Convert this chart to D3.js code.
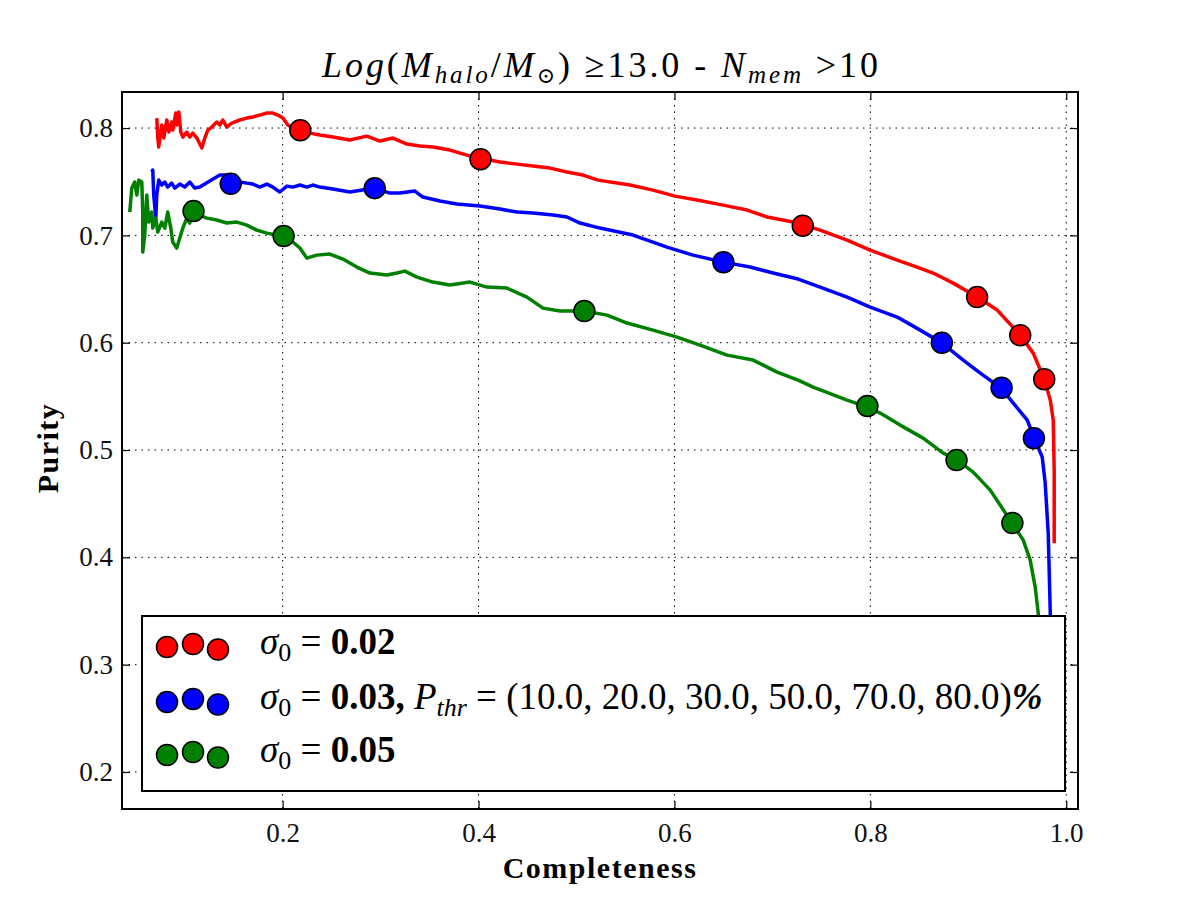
<!DOCTYPE html>
<html>
<head>
<meta charset="utf-8">
<script src="https://cdn.jsdelivr.net/npm/d3@7"></script>
<style>
  body { margin: 0; background: #fff; }
  text { font-family: "Liberation Serif", "DejaVu Serif", serif; }
</style>
</head>
<body>
<div class="chart"></div>
<script>
// completeness / purity curves
const redCurve = [[0.0715,0.8093],[0.0725,0.7916],[0.0735,0.7823],[0.0766,0.8028],[0.0787,0.7907],[0.0817,0.8075],[0.0838,0.7963],[0.0868,0.8056],[0.0878,0.7981],[0.0909,0.8140],[0.0919,0.8028],[0.0940,0.8149],[0.0960,0.7963],[0.0981,0.7916],[0.1021,0.7963],[0.1052,0.7916],[0.1083,0.7953],[0.1124,0.7907],[0.1175,0.7814],[0.1205,0.7907],[0.1236,0.7981],[0.1277,0.8009],[0.1328,0.8056],[0.1359,0.8028],[0.1389,0.8075],[0.1430,0.8009],[0.1481,0.8047],[0.1563,0.8075],[0.1634,0.8093],[0.1696,0.8103],[0.1767,0.8121],[0.1839,0.8140],[0.1900,0.8140],[0.1951,0.8121],[0.2002,0.8093],[0.2053,0.8028],[0.2104,0.8000],[0.2176,0.7972],[0.2278,0.7953],[0.2380,0.7935],[0.2513,0.7916],[0.2686,0.7888],[0.2860,0.7925],[0.2993,0.7879],[0.3126,0.7907],[0.3269,0.7851],[0.3401,0.7832],[0.3534,0.7823],[0.3708,0.7795],[0.3882,0.7748],[0.4014,0.7720],[0.4219,0.7683],[0.4392,0.7664],[0.4556,0.7646],[0.4729,0.7627],[0.4903,0.7590],[0.5066,0.7562],[0.5220,0.7515],[0.5546,0.7469],[0.5781,0.7422],[0.6006,0.7366],[0.6231,0.7329],[0.6497,0.7282],[0.6742,0.7236],[0.6946,0.7171],[0.7211,0.7124],[0.7324,0.7096],[0.7487,0.7049],[0.7763,0.6956],[0.7998,0.6863],[0.8274,0.6770],[0.8478,0.6705],[0.8641,0.6649],[0.8846,0.6555],[0.9091,0.6425],[0.9295,0.6304],[0.9530,0.6071],[0.9663,0.5903],[0.9775,0.5661],[0.9837,0.5465],[0.9867,0.5279],[0.9877,0.4813],[0.9877,0.4132]]
const blueCurve = [[0.0664,0.7590],[0.0674,0.7609],[0.0684,0.7376],[0.0705,0.7161],[0.0715,0.7376],[0.0735,0.7515],[0.0766,0.7469],[0.0797,0.7497],[0.0827,0.7450],[0.0868,0.7487],[0.0899,0.7441],[0.0950,0.7478],[0.1001,0.7450],[0.1052,0.7497],[0.1103,0.7441],[0.1154,0.7450],[0.1205,0.7478],[0.1256,0.7506],[0.1307,0.7534],[0.1359,0.7562],[0.1430,0.7562],[0.1471,0.7487],[0.1563,0.7497],[0.1634,0.7487],[0.1696,0.7478],[0.1767,0.7450],[0.1839,0.7478],[0.1900,0.7450],[0.1971,0.7404],[0.2043,0.7459],[0.2104,0.7450],[0.2176,0.7469],[0.2247,0.7450],[0.2308,0.7469],[0.2380,0.7450],[0.2513,0.7432],[0.2686,0.7404],[0.2942,0.7441],[0.3095,0.7394],[0.3197,0.7394],[0.3350,0.7413],[0.3432,0.7357],[0.3606,0.7320],[0.3779,0.7292],[0.4014,0.7273],[0.4219,0.7245],[0.4392,0.7217],[0.4556,0.7208],[0.4760,0.7189],[0.4903,0.7171],[0.5036,0.7115],[0.5240,0.7068],[0.5577,0.7003],[0.5924,0.6891],[0.6190,0.6816],[0.6497,0.6751],[0.6772,0.6705],[0.7007,0.6649],[0.7263,0.6593],[0.7487,0.6518],[0.7763,0.6425],[0.7998,0.6332],[0.8274,0.6239],[0.8509,0.6117],[0.8733,0.5996],[0.8948,0.5838],[0.9122,0.5717],[0.9336,0.5577],[0.9459,0.5437],[0.9602,0.5279],[0.9673,0.5111],[0.9755,0.4934],[0.9785,0.4692],[0.9816,0.4226],[0.9837,0.3480],[0.9850,0.2500]]
const greenCurve = [[0.0439,0.7217],[0.0460,0.7441],[0.0490,0.7497],[0.0511,0.7376],[0.0531,0.7515],[0.0562,0.7497],[0.0572,0.7217],[0.0572,0.6844],[0.0592,0.7003],[0.0613,0.7376],[0.0633,0.7124],[0.0664,0.7217],[0.0674,0.7068],[0.0705,0.7161],[0.0725,0.7031],[0.0766,0.7124],[0.0797,0.7068],[0.0827,0.7217],[0.0858,0.7068],[0.0878,0.6938],[0.0919,0.6882],[0.0950,0.6975],[0.0981,0.7068],[0.1021,0.7161],[0.1052,0.7115],[0.1093,0.7226],[0.1154,0.7189],[0.1226,0.7161],[0.1328,0.7143],[0.1430,0.7115],[0.1532,0.7124],[0.1634,0.7096],[0.1736,0.7049],[0.1839,0.7021],[0.1941,0.7003],[0.2012,0.6994],[0.2104,0.6938],[0.2176,0.6882],[0.2247,0.6788],[0.2349,0.6816],[0.2482,0.6826],[0.2615,0.6779],[0.2758,0.6705],[0.2891,0.6649],[0.3064,0.6630],[0.3166,0.6649],[0.3248,0.6667],[0.3371,0.6611],[0.3534,0.6565],[0.3708,0.6537],[0.3912,0.6565],[0.4086,0.6518],[0.4290,0.6509],[0.4494,0.6425],[0.4658,0.6322],[0.4831,0.6295],[0.5077,0.6295],[0.5312,0.6257],[0.5516,0.6183],[0.5781,0.6117],[0.6027,0.6052],[0.6261,0.5978],[0.6537,0.5884],[0.6803,0.5838],[0.7048,0.5726],[0.7263,0.5651],[0.7416,0.5586],[0.7763,0.5465],[0.7967,0.5400],[0.8100,0.5344],[0.8304,0.5232],[0.8539,0.5111],[0.8744,0.4971],[0.8887,0.4906],[0.9050,0.4794],[0.9224,0.4626],[0.9448,0.4319],[0.9561,0.4160],[0.9632,0.3974],[0.9683,0.3722],[0.9714,0.3480],[0.9740,0.2500]]

// threshold markers (10, 20, 30, 50, 70, 80 %)
const redMarkers = [[0.218,0.798],[0.402,0.771],[0.731,0.709],[0.909,0.6425],[0.953,0.607],[0.9775,0.566]]
const blueMarkers = [[0.147,0.748],[0.294,0.744],[0.650,0.675],[0.873,0.600],[0.934,0.558],[0.967,0.511]]
const greenMarkers = [[0.109,0.7226],[0.201,0.6994],[0.508,0.6295],[0.797,0.541],[0.888,0.4906],[0.945,0.432]]

const xTicks = [0.2, 0.4, 0.6, 0.8, 1.0]
const yTicks = [0.2, 0.3, 0.4, 0.5, 0.6, 0.7, 0.8]
const seriesNames = ['0.02', '0.03', '0.05']
const seriesColors = ['#ff0000', '#0000ff', '#008000']

const width = 1200
const height = 898
const padL = 122, padR = 1078, padT = 92, padB = 809

var xScale = d3.scaleLinear().domain([0.036, 1.012]).range([padL, padR])
var yScale = d3.scaleLinear().domain([0.1655, 0.8336]).range([padB, padT])

var svg = d3.select('.chart')
  .append('svg')
  .attr('width', width)
  .attr('height', height)

svg.append('rect').attr('width', width).attr('height', height).attr('fill', '#fff')

svg.append('clipPath').attr('id', 'plotclip')
  .append('rect')
  .attr('x', padL).attr('y', padT)
  .attr('width', padR - padL).attr('height', padB - padT)

// dotted grid
svg.append('g').selectAll('line')
  .data(xTicks).enter().append('line')
  .attr('x1', d => xScale(d)).attr('x2', d => xScale(d))
  .attr('y1', padT).attr('y2', padB)
  .attr('stroke', '#000').attr('stroke-width', 1)
  .attr('stroke-dasharray', '1.5,5')
svg.append('g').selectAll('line')
  .data(yTicks).enter().append('line')
  .attr('y1', d => yScale(d)).attr('y2', d => yScale(d))
  .attr('x1', padL).attr('x2', padR)
  .attr('stroke', '#000').attr('stroke-width', 1)
  .attr('stroke-dasharray', '1.5,5')

// curves
const curves = [redCurve, blueCurve, greenCurve]
const markers = [redMarkers, blueMarkers, greenMarkers]
const line = d3.line().x(d => xScale(d[0])).y(d => yScale(d[1]))

var plot = svg.append('g').attr('clip-path', 'url(#plotclip)')
curves.forEach((c, i) => {
  plot.append('path')
    .datum(c)
    .attr('d', line)
    .attr('fill', 'none')
    .attr('stroke', seriesColors[i])
    .attr('stroke-width', 3.5)
    .attr('stroke-linejoin', 'round')
})
markers.forEach((m, i) => {
  plot.selectAll('circle.m' + i)
    .data(m).enter().append('circle')
    .attr('class', 'm' + i)
    .attr('cx', d => xScale(d[0]))
    .attr('cy', d => yScale(d[1]))
    .attr('r', 10.5)
    .attr('fill', seriesColors[i])
    .attr('stroke', '#000').attr('stroke-width', 1.5)
})

// ticks inside, on all four sides
const xAxisB = d3.axisBottom(xScale).tickValues(xTicks).tickSizeInner(-8).tickSizeOuter(0).tickFormat(d3.format('.1f'))
const xAxisT = d3.axisTop(xScale).tickValues(xTicks).tickSizeInner(-8).tickSizeOuter(0).tickFormat('')
const yAxisL = d3.axisLeft(yScale).tickValues(yTicks).tickSizeInner(-8).tickSizeOuter(0).tickFormat(d3.format('.1f'))
const yAxisR = d3.axisRight(yScale).tickValues(yTicks).tickSizeInner(-8).tickSizeOuter(0).tickFormat('')

function styleAxis(g) {
  g.select('.domain').remove()
  g.selectAll('.tick line').attr('stroke', '#000').attr('stroke-width', 1.2)
  g.selectAll('.tick text').attr('font-family', '"Liberation Serif", serif').attr('font-size', 27).attr('fill', '#111')
}
svg.append('g').attr('transform', `translate(0,${padB})`).call(xAxisB).call(styleAxis)
  .selectAll('.tick text').attr('y', 14).attr('dy', '0.71em')
svg.append('g').attr('transform', `translate(0,${padT})`).call(xAxisT).call(styleAxis)
svg.append('g').attr('transform', `translate(${padL},0)`).call(yAxisL).call(styleAxis)
  .selectAll('.tick text').attr('x', -9)
svg.append('g').attr('transform', `translate(${padR},0)`).call(yAxisR).call(styleAxis)

// legend box
const legend = svg.append('g')
legend.append('rect')
  .attr('x', 142).attr('y', 616).attr('width', 923).attr('height', 175)
  .attr('fill', '#fff').attr('stroke', '#000').attr('stroke-width', 2)

const legendRowY = [650, 705, 758]
const legendDotX = [167, 193, 218]
const legendDotDy = [-1, -4, 1.5]
seriesColors.forEach((c, i) => {
  legend.selectAll('circle.l' + i)
    .data(legendDotX).enter().append('circle')
    .attr('class', 'l' + i)
    .attr('cx', d => d)
    .attr('cy', (d, j) => legendRowY[i] - 2 + legendDotDy[j])
    .attr('r', 10.5)
    .attr('fill', c)
    .attr('stroke', '#000').attr('stroke-width', 1.5)
})

function sigmaLabel(t, val) {
  t.append('tspan').attr('font-style', 'italic').text('σ')
  t.append('tspan').attr('font-size', 26).attr('dy', 7).text('0')
  t.append('tspan').attr('dy', -7).text(' = ')
  t.append('tspan').attr('font-weight', 'bold').text(val)
}
legendRowY.forEach((yy, i) => {
  const t = legend.append('text')
    .attr('x', 260).attr('y', yy + 4)
    .attr('font-size', 37)
    .attr('fill', '#000')
  sigmaLabel(t, seriesNames[i])
  if (i === 1) {
    t.append('tspan').attr('font-weight', 'bold').text(', ')
    t.append('tspan').attr('font-style', 'italic').text('P')
    t.append('tspan').attr('font-style', 'italic').attr('font-size', 26).attr('dy', 7).text('thr')
    t.append('tspan').attr('dy', -7).text(' = (10.0, 20.0, 30.0, 50.0, 70.0, 80.0)')
    t.append('tspan').attr('font-weight', 'bold').attr('font-style', 'italic').text('%')
  }
})

// frame
svg.append('rect')
  .attr('x', padL).attr('y', padT).attr('width', padR - padL).attr('height', padB - padT)
  .attr('fill', 'none').attr('stroke', '#000').attr('stroke-width', 2)

// title
const title = svg.append('text')
  .attr('x', 600).attr('y', 77)
  .attr('text-anchor', 'middle')
  .attr('font-size', 36)
  .attr('textLength', 556)
  .attr('lengthAdjust', 'spacing')
  .attr('fill', '#000')
title.append('tspan').attr('font-style', 'italic').text('Log')
title.append('tspan').text('(')
title.append('tspan').attr('font-style', 'italic').text('M')
title.append('tspan').attr('font-style', 'italic').attr('font-size', 25).attr('dy', 6).text('halo')
title.append('tspan').attr('dy', -6).text('/')
title.append('tspan').attr('font-style', 'italic').text('M')
title.append('tspan').attr('font-size', 22).attr('dy', 6).text('⊙')
title.append('tspan').attr('dy', -6).text(') ≥13.0 - ')
title.append('tspan').attr('font-style', 'italic').text('N')
title.append('tspan').attr('font-style', 'italic').attr('font-size', 25).attr('dy', 6).text('mem')
title.append('tspan').attr('dy', -6).text(' >10')

// axis labels
svg.append('text')
  .attr('x', 600).attr('y', 878)
  .attr('text-anchor', 'middle')
  .attr('font-size', 30).attr('font-weight', 'bold')
  .attr('letter-spacing', 1.5)
  .text('Completeness')
svg.append('text')
  .attr('transform', 'translate(58,448) rotate(-90)')
  .attr('text-anchor', 'middle')
  .attr('font-size', 30).attr('font-weight', 'bold')
  .attr('letter-spacing', 1.5)
  .text('Purity')
</script>
</body>
</html>
